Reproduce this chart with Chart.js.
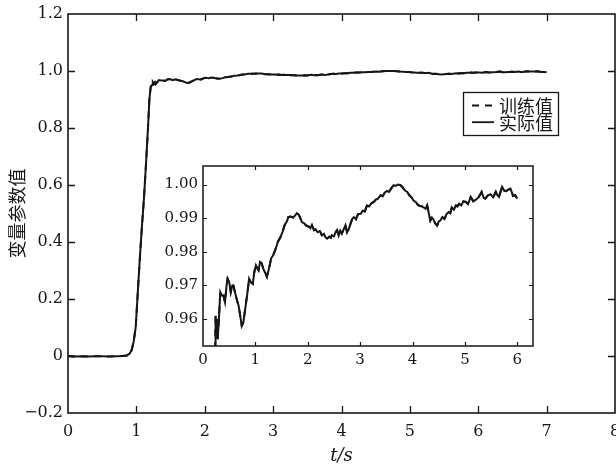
<!DOCTYPE html>
<html><head><meta charset="utf-8">
<script src="https://cdn.jsdelivr.net/npm/chart.js@4"></script>
<style>
html,body{margin:0;padding:0;background:#fff;}
#wrap{position:relative;width:616px;height:468px;overflow:hidden;}
#main{position:absolute;left:0;top:0;}
#inset{position:absolute;left:150px;top:160px;}
</style></head><body>
<div id="wrap">
<canvas id="main" width="616" height="468" style="width:616px;height:468px"></canvas>
<canvas id="inset" width="386" height="215" style="width:386px;height:215px"></canvas>
</div>
<script>
// ---- data ----
const seriesNames = ['训练值', '实际值'];
// main curve before / during the step
const riseT = [0, 0.1, 0.2, 0.3, 0.4, 0.5, 0.6, 0.7, 0.8, 0.86, 0.9, 0.93, 0.96, 0.99, 1.02, 1.05, 1.08, 1.11, 1.14, 1.17, 1.19, 1.21];
const riseV = [0.000, -0.002, -0.001, -0.002, -0.001, -0.001, -0.002, -0.001, 0.000, 0.002, 0.008, 0.02, 0.05, 0.10, 0.22, 0.34, 0.45, 0.55, 0.67, 0.80, 0.90, 0.945];
// zoomed part (inset axis time); the main curve shows it shifted by insetOffset
const insetOffset = 1;
const zoomT = [0.23,0.24,0.255,0.27,0.28,0.30,0.33,0.36,0.39,0.42,0.45,0.47,0.50,0.53,0.56,0.58,0.61,0.65,0.68,0.71,0.74,0.77,0.81,0.85,0.88,0.91,0.95,0.98,1.01,1.04,1.06,1.09,1.12,1.15,1.18,1.22,1.26,1.30,1.34,1.39,1.43,1.48,1.52,1.56,1.60,1.63,1.67,1.72,1.76,1.79,1.83,1.89,1.93,1.97,2.02,2.05,2.08,2.12,2.15,2.19,2.23,2.27,2.31,2.34,2.37,2.41,2.44,2.46,2.50,2.53,2.56,2.59,2.62,2.65,2.69,2.72,2.75,2.78,2.82,2.85,2.88,2.92,2.96,3.01,3.05,3.09,3.13,3.17,3.22,3.26,3.30,3.34,3.39,3.43,3.47,3.51,3.55,3.60,3.64,3.68,3.72,3.77,3.81,3.85,3.90,3.94,3.98,4.02,4.06,4.10,4.14,4.18,4.22,4.25,4.28,4.31,4.34,4.37,4.40,4.43,4.47,4.50,4.53,4.57,4.61,4.65,4.69,4.72,4.75,4.79,4.83,4.86,4.89,4.93,4.97,5.02,5.06,5.11,5.16,5.21,5.26,5.32,5.36,5.39,5.44,5.49,5.54,5.59,5.62,5.65,5.68,5.71,5.75,5.79,5.83,5.87,5.90,5.92,5.96,6.00];
const zoomV = [0.951,0.961,0.955,0.960,0.954,0.959,0.968,0.967,0.967,0.965,0.970,0.972,0.971,0.968,0.970,0.970,0.968,0.9655,0.964,0.961,0.958,0.959,0.9635,0.968,0.972,0.971,0.9705,0.974,0.976,0.975,0.9745,0.977,0.9766,0.975,0.974,0.9726,0.975,0.978,0.979,0.981,0.983,0.9844,0.986,0.988,0.989,0.9903,0.9905,0.9902,0.9908,0.9915,0.991,0.9888,0.9885,0.9878,0.9875,0.9870,0.988,0.9864,0.9866,0.9858,0.9862,0.9849,0.9853,0.9843,0.9839,0.9845,0.9842,0.9849,0.9846,0.9858,0.9864,0.9848,0.9862,0.9854,0.9868,0.9879,0.9858,0.9866,0.9885,0.9898,0.9903,0.9897,0.9912,0.9913,0.9922,0.9920,0.9938,0.9935,0.9945,0.9948,0.9955,0.9958,0.9968,0.9965,0.9976,0.9981,0.9978,0.9990,0.9998,0.9996,1.0000,0.9998,0.9992,0.9983,0.9978,0.9968,0.9962,0.9952,0.9948,0.9940,0.9936,0.9935,0.9931,0.9928,0.9938,0.9915,0.9893,0.9902,0.9896,0.9885,0.9878,0.9890,0.9893,0.9903,0.9898,0.9912,0.9918,0.9915,0.9932,0.9925,0.9938,0.9935,0.9943,0.9938,0.9950,0.9948,0.9942,0.9963,0.9950,0.9955,0.9962,0.9978,0.9960,0.9958,0.9968,0.9971,0.9962,0.9978,0.9968,0.9963,0.9978,0.9993,0.9982,0.9980,0.9985,0.9988,0.9975,0.9966,0.9968,0.9958];
// ticks
const mainXTicks = [0,1,2,3,4,5,6,7,8];
const mainXLabels = ['0','1','2','3','4','5','6','7','8'];
const mainYTicks = [-0.2,0,0.2,0.4,0.6,0.8,1.0,1.2];
const mainYLabels = ['\u22120.2','0','0.2','0.4','0.6','0.8','1.0','1.2'];
const insetXTicks = [0,1,2,3,4,5,6];
const insetXLabels = ['0','1','2','3','4','5','6'];
const insetYTicks = [0.96,0.97,0.98,0.99,1.00];
const insetYLabels = ['0.96','0.97','0.98','0.99','1.00'];
const xTitle = 't/s';
const yTitle = '变量参数值';

// ---- build points ----
const mainPts = riseT.map((t,i)=>({x:t,y:riseV[i]}))
  .concat(zoomT.map((t,i)=>({x:t+insetOffset,y:zoomV[i]})));
const insetPts = zoomT.map((t,i)=>({x:t,y:zoomV[i]}));

const INK = '#161616';
const SERIF = "'DejaVu Serif', 'Liberation Serif', serif";
const CJK = "'Noto Sans CJK SC', sans-serif";

const frameTicks = {
  id:'frameTicks',
  beforeDatasetsDraw(chart, args, o){
    const {ctx, chartArea:{left,right,top,bottom}} = chart;
    if (o.fill){ ctx.save(); ctx.fillStyle='#fff'; ctx.fillRect(left,top,right-left,bottom-top); ctx.restore(); }
  },
  afterDatasetsDraw(chart, args, o){
    const {ctx, chartArea:{left,right,top,bottom}, scales:{x,y}} = chart;
    ctx.save();
    ctx.strokeStyle = INK; ctx.lineWidth = o.lw;
    ctx.beginPath();
    x.ticks.forEach(t=>{
      const px = Math.round(x.getPixelForValue(t.value))+0.5;
      if (px>left+2 && px<right-2){ ctx.moveTo(px,bottom); ctx.lineTo(px,bottom-o.len); ctx.moveTo(px,top); ctx.lineTo(px,top+o.len); }
    });
    y.ticks.forEach(t=>{
      const py = Math.round(y.getPixelForValue(t.value))+0.5;
      if (py>top+2 && py<bottom-2){ ctx.moveTo(left,py); ctx.lineTo(left+o.len,py); ctx.moveTo(right,py); ctx.lineTo(right-o.len,py); }
    });
    ctx.stroke();
    ctx.lineWidth = o.frame;
    ctx.strokeRect(left,top,right-left,bottom-top);
    ctx.restore();
  }
};

const boxLegend = {
  id:'boxLegend',
  afterDraw(chart, args, o){
    if (!o.show) return;
    const {ctx, chartArea:{right,top}} = chart;
    const bx = right - 152, by = top + 78, bw = 95, bh = 43;
    ctx.save();
    ctx.strokeStyle = INK; ctx.lineWidth = 1.3;
    ctx.fillStyle = '#fff';
    ctx.fillRect(bx,by,bw,bh);
    ctx.strokeRect(bx+0.5,by+0.5,bw,bh);
    ctx.font = "18px " + CJK;
    ctx.textBaseline = 'middle';
    chart.data.datasets.forEach((ds,i)=>{
      const cy = by + 13.5 + i*16.7;
      ctx.beginPath();
      ctx.lineWidth = 1.8;
      ctx.setLineDash(ds.borderDash || []);
      ctx.moveTo(bx+9, cy); ctx.lineTo(bx+31, cy);
      ctx.stroke();
      ctx.setLineDash([]);
      ctx.fillStyle = INK;
      ctx.fillText(ds.label, bx+36, cy+0.5);
    });
    ctx.restore();
  }
};

function datasets(pts, lw){
  return [
    {label:seriesNames[0], data:pts, borderColor:INK, borderWidth:lw, borderDash:[7,6], pointRadius:0, tension:0, order:2},
    {label:seriesNames[1], data:pts, borderColor:INK, borderWidth:lw, pointRadius:0, tension:0, order:1}
  ];
}

function axis(cfg){
  return {
    type:'linear', min:cfg.min, max:cfg.max,
    afterBuildTicks: s => { s.ticks = cfg.ticks.map(v=>({value:v})); },
    ticks:{ autoSkip:false, maxRotation:0, color:INK, font:{family:SERIF, size:cfg.fs}, padding:cfg.pad,
      callback:(v,i)=>cfg.labels[i] },
    grid:{ display:false, drawTicks:false },
    border:{ display:false },
    title: cfg.title ? cfg.title : {display:false},
    afterFit: s => {
      if (cfg.w) s.width = cfg.w;
      if (cfg.h) s.height = cfg.h;
      s.paddingLeft = 0; s.paddingRight = 0; s.paddingTop = 0; s.paddingBottom = 0;
    }
  };
}

Chart.defaults.animation = false;

new Chart(document.getElementById('main'), {
  type:'line',
  data:{ datasets: datasets(mainPts, 2) },
  options:{
    responsive:false, animation:false, parsing:true,
    layout:{ padding:{left:0,right:1,top:14,bottom:0} },
    plugins:{ legend:{display:false}, tooltip:{enabled:false},
      frameTicks:{len:7, lw:1.3, frame:1.6}, boxLegend:{show:true} },
    scales:{
      x: axis({min:0,max:8,ticks:mainXTicks,labels:mainXLabels,fs:16,pad:9,h:55,
        title:{display:true,text:xTitle,color:INK,font:{family:SERIF,size:18,style:'italic'},padding:{top:0,bottom:1}}}),
      y: axis({min:-0.2,max:1.2,ticks:mainYTicks,labels:mainYLabels,fs:16,pad:5,w:68,
        title:{display:true,text:yTitle,color:INK,font:{family:CJK,size:18},padding:{top:6,bottom:0}}})
    }
  },
  plugins:[frameTicks, boxLegend]
});

new Chart(document.getElementById('inset'), {
  type:'line',
  data:{ datasets: datasets(insetPts, 2) },
  options:{
    responsive:false, animation:false,
    layout:{ padding:{left:0,right:3,top:6,bottom:0} },
    plugins:{ legend:{display:false}, tooltip:{enabled:false},
      frameTicks:{len:4, lw:1.2, frame:1.5, fill:true}, boxLegend:{show:false} },
    scales:{
      x: axis({min:0,max:6.3,ticks:insetXTicks,labels:insetXLabels,fs:15,pad:5,h:29}),
      y: axis({min:0.952,max:1.0055,ticks:insetYTicks,labels:insetYLabels,fs:15,pad:5,w:53})
    }
  },
  plugins:[frameTicks, boxLegend]
});
</script>
</body></html>
